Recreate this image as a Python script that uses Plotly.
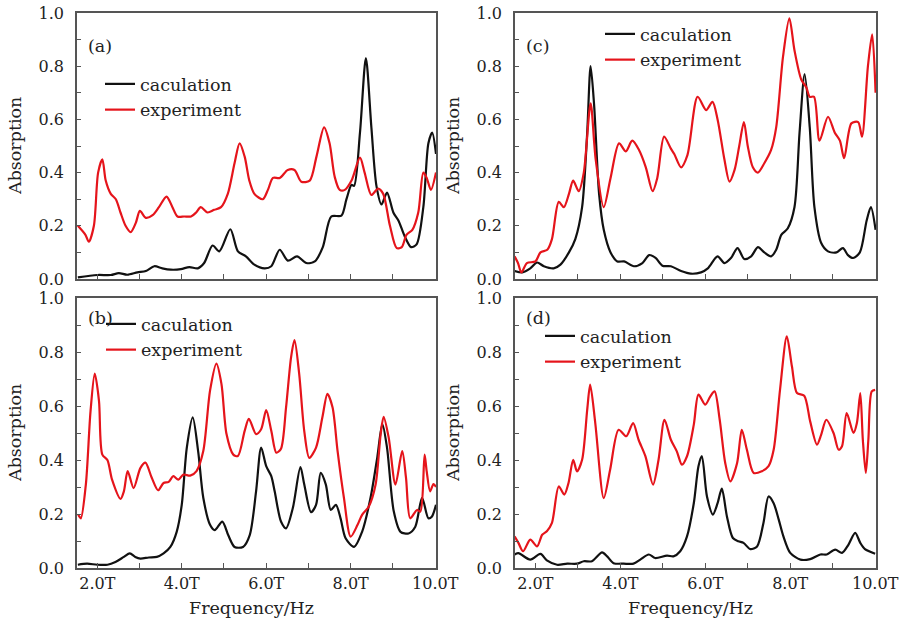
import plotly.graph_objects as go

# ---------------- data ----------------
series_names = ["caculation", "experiment"]
panel_labels = ["(a)", "(b)", "(c)", "(d)"]
x_tick_vals = [2, 4, 6, 8, 10]
x_tick_text = ["2.0T", "4.0T", "6.0T", "8.0T", "10.0T"]
y_tick_vals = [0.0, 0.2, 0.4, 0.6, 0.8, 1.0]
y_tick_text = ["0.0", "0.2", "0.4", "0.6", "0.8", "1.0"]
x_axis_title = "Frequency/Hz"
y_axis_title = "Absorption"

# panel (a)
a_calc_f = [1.54, 2.00, 2.32, 2.51, 2.71, 2.95, 3.15, 3.35, 3.54, 3.74, 3.98, 4.18, 4.38, 4.53, 4.73, 4.89,
            5.15, 5.33, 5.52, 5.72, 5.96, 6.12, 6.32, 6.51, 6.73, 6.95, 7.15, 7.34, 7.54, 7.78, 7.90, 8.02,
            8.08, 8.22, 8.36, 8.49, 8.61, 8.73, 8.86, 9.01, 9.13, 9.28, 9.43, 9.56, 9.72, 9.84, 9.93, 10.02]
a_calc_v = [0.006, 0.015, 0.015, 0.022, 0.016, 0.025, 0.03, 0.048, 0.04, 0.035, 0.037, 0.045, 0.04, 0.06, 0.126, 0.104,
            0.187, 0.104, 0.085, 0.054, 0.04, 0.048, 0.11, 0.069, 0.085, 0.06, 0.066, 0.12, 0.235, 0.238, 0.30, 0.354,
            0.35, 0.55, 0.83, 0.57, 0.35, 0.28, 0.325, 0.25, 0.22, 0.16, 0.12, 0.13, 0.27, 0.51, 0.55, 0.47]
a_exp_f = [1.54, 1.72, 1.80, 1.92, 2.02, 2.12, 2.20, 2.32, 2.44, 2.55, 2.67, 2.79, 2.91, 3.01, 3.15, 3.31,
           3.46, 3.64, 3.78, 3.90, 4.06, 4.22, 4.34, 4.45, 4.61, 4.77, 4.93, 5.09, 5.25, 5.37, 5.49, 5.60,
           5.72, 5.92, 6.04, 6.16, 6.32, 6.51, 6.67, 6.83, 7.03, 7.19, 7.37, 7.50, 7.62, 7.74, 7.86, 8.02,
           8.22, 8.33, 8.49, 8.65, 8.77, 8.93, 9.09, 9.21, 9.32, 9.46, 9.60, 9.72, 9.80, 9.90, 10.02]
a_exp_v = [0.20, 0.166, 0.14, 0.20, 0.40, 0.45, 0.37, 0.32, 0.30, 0.25, 0.20, 0.176, 0.21, 0.256, 0.23, 0.24,
           0.27, 0.31, 0.27, 0.235, 0.235, 0.235, 0.25, 0.27, 0.25, 0.26, 0.27, 0.32, 0.435, 0.51, 0.46, 0.37,
           0.32, 0.30, 0.335, 0.38, 0.38, 0.41, 0.41, 0.366, 0.37, 0.46, 0.57, 0.51, 0.385, 0.335, 0.335, 0.37,
           0.456, 0.40, 0.316, 0.34, 0.32, 0.20, 0.116, 0.12, 0.166, 0.185, 0.25, 0.40, 0.38, 0.335, 0.40]

# panel (b)
b_calc_f = [1.54, 1.76, 2.00, 2.24, 2.43, 2.63, 2.77, 2.90, 3.02, 3.22, 3.41, 3.57, 3.73, 3.88, 4.00, 4.12,
            4.26, 4.39, 4.51, 4.67, 4.78, 4.96, 5.10, 5.25, 5.45, 5.61, 5.76, 5.88, 6.00, 6.12, 6.20, 6.35,
            6.47, 6.63, 6.81, 6.90, 7.06, 7.18, 7.29, 7.41, 7.53, 7.65, 7.76, 7.88, 8.08, 8.27, 8.47, 8.63,
            8.75, 8.86, 9.02, 9.18, 9.37, 9.53, 9.69, 9.84, 9.92, 10.02]
b_calc_v = [0.012, 0.016, 0.012, 0.012, 0.022, 0.041, 0.054, 0.041, 0.035, 0.039, 0.041, 0.054, 0.078, 0.134, 0.234, 0.446,
            0.558, 0.43, 0.26, 0.16, 0.14, 0.172, 0.122, 0.078, 0.078, 0.122, 0.284, 0.446, 0.377, 0.34, 0.284, 0.172,
            0.147, 0.222, 0.374, 0.31, 0.207, 0.234, 0.352, 0.31, 0.215, 0.234, 0.184, 0.11, 0.078, 0.134, 0.26, 0.41,
            0.533, 0.446, 0.21, 0.134, 0.128, 0.153, 0.26, 0.184, 0.19, 0.234]
b_exp_f = [1.55, 1.61, 1.73, 1.84, 1.94, 2.04, 2.12, 2.24, 2.35, 2.55, 2.63, 2.72, 2.86, 3.02, 3.14, 3.29,
           3.44, 3.57, 3.69, 3.80, 3.92, 4.04, 4.20, 4.35, 4.51, 4.67, 4.82, 4.94, 5.06, 5.22, 5.33, 5.49,
           5.59, 5.76, 5.88, 6.00, 6.12, 6.24, 6.35, 6.47, 6.59, 6.67, 6.78, 6.90, 7.02, 7.18, 7.33, 7.45,
           7.57, 7.69, 7.84, 8.00, 8.16, 8.27, 8.43, 8.59, 8.71, 8.78, 8.90, 9.06, 9.22, 9.31, 9.41, 9.57,
           9.65, 9.75, 9.80, 9.88, 9.96, 10.02]
b_exp_v = [0.197, 0.184, 0.31, 0.58, 0.72, 0.62, 0.42, 0.40, 0.327, 0.256, 0.284, 0.359, 0.296, 0.37, 0.39, 0.334,
           0.288, 0.315, 0.319, 0.34, 0.327, 0.346, 0.342, 0.359, 0.433, 0.657, 0.757, 0.682, 0.496, 0.42, 0.415, 0.508,
           0.552, 0.496, 0.514, 0.585, 0.508, 0.427, 0.442, 0.595, 0.782, 0.844, 0.72, 0.508, 0.408, 0.446, 0.558, 0.645,
           0.595, 0.433, 0.26, 0.116, 0.159, 0.197, 0.228, 0.309, 0.496, 0.56, 0.483, 0.309, 0.433, 0.334, 0.184, 0.215,
           0.209, 0.42, 0.358, 0.284, 0.311, 0.30]

# panel (c)
c_calc_f = [1.51, 1.69, 1.88, 2.04, 2.20, 2.43, 2.59, 2.79, 2.94, 3.10, 3.22, 3.30, 3.38, 3.50, 3.61, 3.77,
            3.93, 4.09, 4.32, 4.52, 4.68, 4.83, 4.99, 5.19, 5.43, 5.66, 5.90, 6.06, 6.29, 6.45, 6.61, 6.76,
            6.92, 7.08, 7.24, 7.39, 7.55, 7.67, 7.79, 7.94, 8.10, 8.22, 8.34, 8.46, 8.57, 8.73, 8.89, 9.09,
            9.24, 9.36, 9.48, 9.64, 9.80, 9.90, 10.01]
c_calc_v = [0.03, 0.025, 0.04, 0.062, 0.048, 0.04, 0.054, 0.10, 0.15, 0.27, 0.55, 0.80, 0.66, 0.32, 0.185, 0.10,
            0.066, 0.066, 0.048, 0.06, 0.09, 0.079, 0.05, 0.048, 0.03, 0.02, 0.025, 0.04, 0.085, 0.06, 0.08, 0.116,
            0.075, 0.085, 0.12, 0.10, 0.085, 0.11, 0.166, 0.19, 0.27, 0.55, 0.77, 0.57, 0.27, 0.135, 0.104, 0.10,
            0.116, 0.09, 0.079, 0.10, 0.22, 0.27, 0.185]
c_exp_f = [1.51, 1.59, 1.67, 1.80, 2.00, 2.12, 2.28, 2.39, 2.55, 2.67, 2.79, 2.89, 3.02, 3.14, 3.30, 3.42,
           3.61, 3.77, 3.97, 4.13, 4.28, 4.44, 4.60, 4.76, 4.87, 5.03, 5.19, 5.27, 5.43, 5.58, 5.82, 6.02,
           6.17, 6.29, 6.45, 6.57, 6.69, 6.80, 6.91, 7.00, 7.12, 7.24, 7.39, 7.55, 7.67, 7.83, 7.98, 8.10,
           8.26, 8.38, 8.46, 8.56, 8.69, 8.89, 9.05, 9.17, 9.27, 9.44, 9.60, 9.69, 9.83, 9.93, 10.01]
c_exp_v = [0.085, 0.06, 0.025, 0.06, 0.066, 0.10, 0.11, 0.15, 0.29, 0.27, 0.32, 0.37, 0.33, 0.40, 0.66, 0.45,
           0.27, 0.38, 0.51, 0.48, 0.52, 0.485, 0.42, 0.33, 0.38, 0.535, 0.49, 0.47, 0.42, 0.466, 0.685, 0.635,
           0.666, 0.60, 0.45, 0.366, 0.41, 0.50, 0.59, 0.50, 0.42, 0.40, 0.435, 0.485, 0.57, 0.835, 0.98, 0.86,
           0.75, 0.72, 0.685, 0.685, 0.52, 0.61, 0.55, 0.52, 0.454, 0.585, 0.59, 0.535, 0.80, 0.92, 0.70]

# panel (d)
d_calc_f = [1.51, 1.60, 1.88, 2.12, 2.27, 2.51, 2.75, 2.98, 3.14, 3.33, 3.57, 3.69, 3.84, 4.08, 4.31, 4.47,
            4.67, 4.82, 5.10, 5.25, 5.41, 5.57, 5.73, 5.84, 5.92, 6.04, 6.18, 6.29, 6.39, 6.51, 6.65, 6.78,
            6.90, 7.06, 7.22, 7.37, 7.49, 7.61, 7.73, 7.84, 8.00, 8.24, 8.47, 8.71, 8.86, 9.06, 9.22, 9.37,
            9.53, 9.65, 9.76, 10.00]
d_calc_v = [0.05, 0.055, 0.031, 0.052, 0.028, 0.012, 0.016, 0.016, 0.025, 0.025, 0.058, 0.043, 0.018, 0.016, 0.016, 0.031,
            0.05, 0.037, 0.046, 0.043, 0.062, 0.117, 0.24, 0.377, 0.414, 0.265, 0.198, 0.24, 0.294, 0.191, 0.111, 0.099,
            0.093, 0.07, 0.08, 0.167, 0.265, 0.24, 0.179, 0.117, 0.056, 0.031, 0.033, 0.05, 0.05, 0.068, 0.056, 0.086,
            0.13, 0.093, 0.07, 0.053]
d_exp_f = [1.51, 1.60, 1.71, 1.88, 2.04, 2.16, 2.27, 2.39, 2.55, 2.68, 2.78, 2.89, 2.98, 3.10, 3.22, 3.29,
           3.41, 3.61, 3.76, 3.96, 4.14, 4.30, 4.43, 4.59, 4.77, 4.90, 5.04, 5.19, 5.33, 5.45, 5.57, 5.73,
           5.84, 6.00, 6.12, 6.22, 6.34, 6.47, 6.59, 6.75, 6.86, 6.98, 7.14, 7.33, 7.49, 7.61, 7.76, 7.92,
           8.04, 8.16, 8.33, 8.47, 8.63, 8.73, 8.85, 9.02, 9.14, 9.22, 9.33, 9.49, 9.57, 9.65, 9.71, 9.78,
           9.84, 9.92, 10.00]
d_exp_v = [0.117, 0.093, 0.062, 0.105, 0.08, 0.123, 0.136, 0.167, 0.302, 0.272, 0.315, 0.401, 0.358, 0.401, 0.586, 0.679,
           0.537, 0.259, 0.364, 0.512, 0.488, 0.537, 0.475, 0.414, 0.309, 0.401, 0.549, 0.475, 0.432, 0.383, 0.414, 0.531,
           0.642, 0.605, 0.636, 0.654, 0.549, 0.389, 0.321, 0.389, 0.512, 0.438, 0.352, 0.358, 0.377, 0.438, 0.66, 0.858,
           0.747, 0.648, 0.638, 0.543, 0.457, 0.494, 0.549, 0.50, 0.438, 0.451, 0.574, 0.50, 0.537, 0.648, 0.475, 0.352,
           0.475, 0.654, 0.66]

panels = [
    (a_calc_f, a_calc_v, a_exp_f, a_exp_v),
    (b_calc_f, b_calc_v, b_exp_f, b_exp_v),
    (c_calc_f, c_calc_v, c_exp_f, c_exp_v),
    (d_calc_f, d_calc_v, d_exp_f, d_exp_v),
]

# ---------------- layout geometry (pixels) ----------------
W, H = 905, 621
# (left, right, top, bottom) per panel a, b, c, d
boxes = [(77, 436, 13, 279), (77, 436, 298, 568), (515, 876, 13, 279), (515, 876, 298, 568)]
legend_pos = [(100, 66), (101, 306), (600, 16), (540, 318)]
FONT = "DejaVu Serif"
BLACK = "#111111"
RED = "#e5141b"
FRAME = "#555555"

fig = go.Figure()
layout = dict(
    width=W, height=H, margin=dict(l=0, r=0, t=0, b=0, pad=0), autosize=False,
    paper_bgcolor="white", plot_bgcolor="white",
    font=dict(family=FONT, size=16, color="#222222"),
    annotations=[],
)

for i, ((cf, cv, ef, ev), (l, r, t, b)) in enumerate(zip(panels, boxes)):
    n = "" if i == 0 else str(i + 1)
    xa, ya = "x" + n, "y" + n
    lg = "legend" if i == 0 else "legend" + str(i + 1)
    fig.add_trace(go.Scatter(x=cf, y=cv, mode="lines", name=series_names[0],
                             line=dict(color=BLACK, width=2.2, shape="spline", smoothing=0.8),
                             xaxis=xa, yaxis=ya, legend=lg))
    fig.add_trace(go.Scatter(x=ef, y=ev, mode="lines", name=series_names[1],
                             line=dict(color=RED, width=2.2, shape="spline", smoothing=0.8),
                             xaxis=xa, yaxis=ya, legend=lg))
    bottom_row = i in (1, 3)
    layout["xaxis" + n] = dict(
        domain=[l / W, r / W], anchor=ya, range=[1.52, 10.02], automargin=False,
        showline=True, mirror=True, linecolor=FRAME, linewidth=1.5,
        showgrid=False, zeroline=False,
        ticks="inside", ticklen=5, tickwidth=1.2, tickcolor=FRAME,
        tickmode="array", tickvals=x_tick_vals, ticktext=x_tick_text,
        showticklabels=bottom_row, tickfont=dict(size=16, family=FONT, color="#222222"),
        minor=dict(ticks="inside", dtick=1, tick0=0, ticklen=5, tickwidth=1.2, tickcolor=FRAME),
    )
    layout["yaxis" + n] = dict(
        domain=[1 - b / H, 1 - t / H], anchor=xa, range=[0, 1], automargin=False,
        showline=True, mirror=True, linecolor=FRAME, linewidth=1.5,
        showgrid=False, zeroline=False,
        ticks="inside", ticklen=4, tickwidth=1.2, tickcolor=FRAME,
        tickmode="array", tickvals=y_tick_vals, ticktext=y_tick_text,
        ticklabelstandoff=8,
        tickfont=dict(size=16, family=FONT, color="#222222"),
        minor=dict(ticks="inside", dtick=0.1, tick0=0, ticklen=4, tickwidth=1.2, tickcolor=FRAME),
    )
    lx, ly = legend_pos[i]
    layout[lg] = dict(
        x=lx / W, y=1 - ly / H, xanchor="left", yanchor="top",
        bgcolor="rgba(0,0,0,0)", borderwidth=0, itemwidth=30,
        font=dict(family=FONT, size=17.5, color="#222222"),
        tracegroupgap=0,
    )
    # panel label
    layout["annotations"].append(dict(
        text=panel_labels[i], xref=xa + " domain", yref=ya + " domain",
        x=0.025, y=[0.876, 0.926, 0.876, 0.926][i], xanchor="left", yanchor="middle",
        showarrow=False, font=dict(family=FONT, size=17.5, color="#222222")))
    # y axis title
    layout["annotations"].append(dict(
        text=y_axis_title, xref="paper", yref="paper",
        x=(l - 62) / W, y=1 - ((t + b) / 2) / H, xanchor="center", yanchor="middle",
        textangle=-90, showarrow=False, font=dict(family=FONT, size=17.5, color="#222222")))
    if bottom_row:
        layout["annotations"].append(dict(
            text=x_axis_title, xref="paper", yref="paper",
            x=((l + r) / 2 - 5) / W, y=1 - 608 / H, xanchor="center", yanchor="middle",
            showarrow=False, font=dict(family=FONT, size=17.5, color="#222222")))

fig.update_layout(**layout)
fig.write_html("out.html")
